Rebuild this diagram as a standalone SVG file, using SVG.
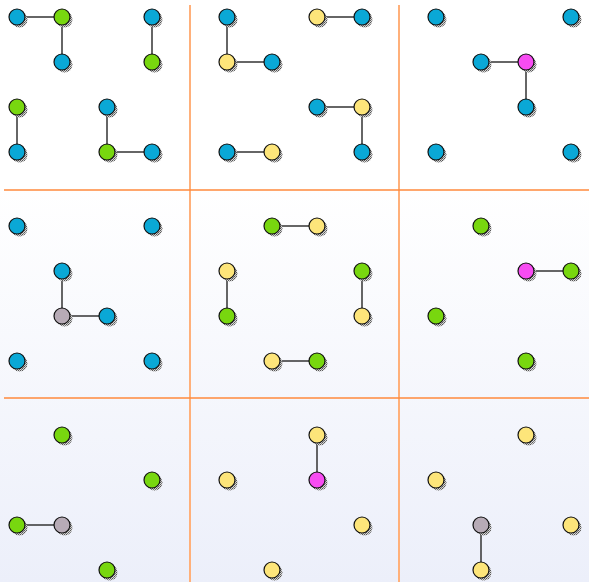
<svg xmlns="http://www.w3.org/2000/svg" width="589" height="582" viewBox="0 0 589 582">
<defs>
<linearGradient id="bg" x1="0" y1="190" x2="0" y2="582" gradientUnits="userSpaceOnUse">
<stop offset="0" stop-color="#ffffff"/>
<stop offset="1" stop-color="#eceffa"/>
</linearGradient>
<pattern id="hatch" width="2" height="2" patternUnits="userSpaceOnUse">
<rect width="2" height="2" fill="#d8d8d8"/>
<rect width="1" height="1" fill="#555555"/>
<rect x="1" y="1" width="1" height="1" fill="#777777"/>
</pattern>
</defs>
<style>
.vl{stroke:#ffb07a;stroke-width:2;fill:none}
.hl{stroke:#ff8a3c;stroke-width:1.5;fill:none}
.e{stroke:#333333;stroke-width:1.5;fill:none}
.sh{fill:url(#hatch)}
.n{stroke:#111111;stroke-width:1.2}
.b{fill:#0aa8d6}
.g{fill:#78d70f}
.y{fill:#fde57a}
.m{fill:#f74cf2}
.k{fill:#b7abb6}
</style>
<rect width="589" height="582" fill="url(#bg)"/>
<g id="grid">
<line class="vl" x1="190" y1="5" x2="190" y2="582"/>
<line class="vl" x1="399" y1="5" x2="399" y2="582"/>
<line class="hl" x1="4" y1="190" x2="589" y2="190"/>
<line class="hl" x1="4" y1="398" x2="589" y2="398"/>
</g>
<g id="connectors">
<line class="e" x1="17" y1="17" x2="62" y2="17"/>
<line class="e" x1="62" y1="17" x2="62" y2="62"/>
<line class="e" x1="152" y1="17" x2="152" y2="62"/>
<line class="e" x1="17" y1="107" x2="17" y2="152"/>
<line class="e" x1="107" y1="107" x2="107" y2="152"/>
<line class="e" x1="107" y1="152" x2="152" y2="152"/>
<line class="e" x1="227" y1="17" x2="227" y2="62"/>
<line class="e" x1="227" y1="62" x2="272" y2="62"/>
<line class="e" x1="317" y1="17" x2="362" y2="17"/>
<line class="e" x1="317" y1="107" x2="362" y2="107"/>
<line class="e" x1="362" y1="107" x2="362" y2="152"/>
<line class="e" x1="227" y1="152" x2="272" y2="152"/>
<line class="e" x1="481" y1="62" x2="526" y2="62"/>
<line class="e" x1="526" y1="62" x2="526" y2="107"/>
<line class="e" x1="62" y1="271" x2="62" y2="316"/>
<line class="e" x1="62" y1="316" x2="107" y2="316"/>
<line class="e" x1="272" y1="226" x2="317" y2="226"/>
<line class="e" x1="227" y1="271" x2="227" y2="316"/>
<line class="e" x1="362" y1="271" x2="362" y2="316"/>
<line class="e" x1="272" y1="361" x2="317" y2="361"/>
<line class="e" x1="526" y1="271" x2="571" y2="271"/>
<line class="e" x1="17" y1="525" x2="62" y2="525"/>
<line class="e" x1="317" y1="435" x2="317" y2="480"/>
<line class="e" x1="481" y1="525" x2="481" y2="570"/>
</g>
<g id="nodes">
<g id="n1"><circle class="sh" cx="19.5" cy="19.5" r="8"/><circle class="n b" cx="17" cy="17" r="8"/></g>
<g id="n2"><circle class="sh" cx="64.5" cy="19.5" r="8"/><circle class="n g" cx="62" cy="17" r="8"/></g>
<g id="n3"><circle class="sh" cx="64.5" cy="64.5" r="8"/><circle class="n b" cx="62" cy="62" r="8"/></g>
<g id="n4"><circle class="sh" cx="154.5" cy="19.5" r="8"/><circle class="n b" cx="152" cy="17" r="8"/></g>
<g id="n5"><circle class="sh" cx="154.5" cy="64.5" r="8"/><circle class="n g" cx="152" cy="62" r="8"/></g>
<g id="n6"><circle class="sh" cx="19.5" cy="109.5" r="8"/><circle class="n g" cx="17" cy="107" r="8"/></g>
<g id="n7"><circle class="sh" cx="19.5" cy="154.5" r="8"/><circle class="n b" cx="17" cy="152" r="8"/></g>
<g id="n8"><circle class="sh" cx="109.5" cy="109.5" r="8"/><circle class="n b" cx="107" cy="107" r="8"/></g>
<g id="n9"><circle class="sh" cx="109.5" cy="154.5" r="8"/><circle class="n g" cx="107" cy="152" r="8"/></g>
<g id="n10"><circle class="sh" cx="154.5" cy="154.5" r="8"/><circle class="n b" cx="152" cy="152" r="8"/></g>
<g id="n11"><circle class="sh" cx="229.5" cy="19.5" r="8"/><circle class="n b" cx="227" cy="17" r="8"/></g>
<g id="n12"><circle class="sh" cx="229.5" cy="64.5" r="8"/><circle class="n y" cx="227" cy="62" r="8"/></g>
<g id="n13"><circle class="sh" cx="274.5" cy="64.5" r="8"/><circle class="n b" cx="272" cy="62" r="8"/></g>
<g id="n14"><circle class="sh" cx="319.5" cy="19.5" r="8"/><circle class="n y" cx="317" cy="17" r="8"/></g>
<g id="n15"><circle class="sh" cx="364.5" cy="19.5" r="8"/><circle class="n b" cx="362" cy="17" r="8"/></g>
<g id="n16"><circle class="sh" cx="319.5" cy="109.5" r="8"/><circle class="n b" cx="317" cy="107" r="8"/></g>
<g id="n17"><circle class="sh" cx="364.5" cy="109.5" r="8"/><circle class="n y" cx="362" cy="107" r="8"/></g>
<g id="n18"><circle class="sh" cx="364.5" cy="154.5" r="8"/><circle class="n b" cx="362" cy="152" r="8"/></g>
<g id="n19"><circle class="sh" cx="229.5" cy="154.5" r="8"/><circle class="n b" cx="227" cy="152" r="8"/></g>
<g id="n20"><circle class="sh" cx="274.5" cy="154.5" r="8"/><circle class="n y" cx="272" cy="152" r="8"/></g>
<g id="n21"><circle class="sh" cx="438.5" cy="19.5" r="8"/><circle class="n b" cx="436" cy="17" r="8"/></g>
<g id="n22"><circle class="sh" cx="573.5" cy="19.5" r="8"/><circle class="n b" cx="571" cy="17" r="8"/></g>
<g id="n23"><circle class="sh" cx="483.5" cy="64.5" r="8"/><circle class="n b" cx="481" cy="62" r="8"/></g>
<g id="n24"><circle class="sh" cx="528.5" cy="64.5" r="8"/><circle class="n m" cx="526" cy="62" r="8"/></g>
<g id="n25"><circle class="sh" cx="528.5" cy="109.5" r="8"/><circle class="n b" cx="526" cy="107" r="8"/></g>
<g id="n26"><circle class="sh" cx="438.5" cy="154.5" r="8"/><circle class="n b" cx="436" cy="152" r="8"/></g>
<g id="n27"><circle class="sh" cx="573.5" cy="154.5" r="8"/><circle class="n b" cx="571" cy="152" r="8"/></g>
<g id="n28"><circle class="sh" cx="19.5" cy="228.5" r="8"/><circle class="n b" cx="17" cy="226" r="8"/></g>
<g id="n29"><circle class="sh" cx="154.5" cy="228.5" r="8"/><circle class="n b" cx="152" cy="226" r="8"/></g>
<g id="n30"><circle class="sh" cx="64.5" cy="273.5" r="8"/><circle class="n b" cx="62" cy="271" r="8"/></g>
<g id="n31"><circle class="sh" cx="64.5" cy="318.5" r="8"/><circle class="n k" cx="62" cy="316" r="8"/></g>
<g id="n32"><circle class="sh" cx="109.5" cy="318.5" r="8"/><circle class="n b" cx="107" cy="316" r="8"/></g>
<g id="n33"><circle class="sh" cx="19.5" cy="363.5" r="8"/><circle class="n b" cx="17" cy="361" r="8"/></g>
<g id="n34"><circle class="sh" cx="154.5" cy="363.5" r="8"/><circle class="n b" cx="152" cy="361" r="8"/></g>
<g id="n35"><circle class="sh" cx="274.5" cy="228.5" r="8"/><circle class="n g" cx="272" cy="226" r="8"/></g>
<g id="n36"><circle class="sh" cx="319.5" cy="228.5" r="8"/><circle class="n y" cx="317" cy="226" r="8"/></g>
<g id="n37"><circle class="sh" cx="229.5" cy="273.5" r="8"/><circle class="n y" cx="227" cy="271" r="8"/></g>
<g id="n38"><circle class="sh" cx="229.5" cy="318.5" r="8"/><circle class="n g" cx="227" cy="316" r="8"/></g>
<g id="n39"><circle class="sh" cx="364.5" cy="273.5" r="8"/><circle class="n g" cx="362" cy="271" r="8"/></g>
<g id="n40"><circle class="sh" cx="364.5" cy="318.5" r="8"/><circle class="n y" cx="362" cy="316" r="8"/></g>
<g id="n41"><circle class="sh" cx="274.5" cy="363.5" r="8"/><circle class="n y" cx="272" cy="361" r="8"/></g>
<g id="n42"><circle class="sh" cx="319.5" cy="363.5" r="8"/><circle class="n g" cx="317" cy="361" r="8"/></g>
<g id="n43"><circle class="sh" cx="483.5" cy="228.5" r="8"/><circle class="n g" cx="481" cy="226" r="8"/></g>
<g id="n44"><circle class="sh" cx="528.5" cy="273.5" r="8"/><circle class="n m" cx="526" cy="271" r="8"/></g>
<g id="n45"><circle class="sh" cx="573.5" cy="273.5" r="8"/><circle class="n g" cx="571" cy="271" r="8"/></g>
<g id="n46"><circle class="sh" cx="438.5" cy="318.5" r="8"/><circle class="n g" cx="436" cy="316" r="8"/></g>
<g id="n47"><circle class="sh" cx="528.5" cy="363.5" r="8"/><circle class="n g" cx="526" cy="361" r="8"/></g>
<g id="n48"><circle class="sh" cx="64.5" cy="437.5" r="8"/><circle class="n g" cx="62" cy="435" r="8"/></g>
<g id="n49"><circle class="sh" cx="154.5" cy="482.5" r="8"/><circle class="n g" cx="152" cy="480" r="8"/></g>
<g id="n50"><circle class="sh" cx="19.5" cy="527.5" r="8"/><circle class="n g" cx="17" cy="525" r="8"/></g>
<g id="n51"><circle class="sh" cx="64.5" cy="527.5" r="8"/><circle class="n k" cx="62" cy="525" r="8"/></g>
<g id="n52"><circle class="sh" cx="109.5" cy="572.5" r="8"/><circle class="n g" cx="107" cy="570" r="8"/></g>
<g id="n53"><circle class="sh" cx="319.5" cy="437.5" r="8"/><circle class="n y" cx="317" cy="435" r="8"/></g>
<g id="n54"><circle class="sh" cx="229.5" cy="482.5" r="8"/><circle class="n y" cx="227" cy="480" r="8"/></g>
<g id="n55"><circle class="sh" cx="319.5" cy="482.5" r="8"/><circle class="n m" cx="317" cy="480" r="8"/></g>
<g id="n56"><circle class="sh" cx="364.5" cy="527.5" r="8"/><circle class="n y" cx="362" cy="525" r="8"/></g>
<g id="n57"><circle class="sh" cx="274.5" cy="572.5" r="8"/><circle class="n y" cx="272" cy="570" r="8"/></g>
<g id="n58"><circle class="sh" cx="528.5" cy="437.5" r="8"/><circle class="n y" cx="526" cy="435" r="8"/></g>
<g id="n59"><circle class="sh" cx="438.5" cy="482.5" r="8"/><circle class="n y" cx="436" cy="480" r="8"/></g>
<g id="n60"><circle class="sh" cx="483.5" cy="527.5" r="8"/><circle class="n k" cx="481" cy="525" r="8"/></g>
<g id="n61"><circle class="sh" cx="573.5" cy="527.5" r="8"/><circle class="n y" cx="571" cy="525" r="8"/></g>
<g id="n62"><circle class="sh" cx="483.5" cy="572.5" r="8"/><circle class="n y" cx="481" cy="570" r="8"/></g>
</g>
</svg>
